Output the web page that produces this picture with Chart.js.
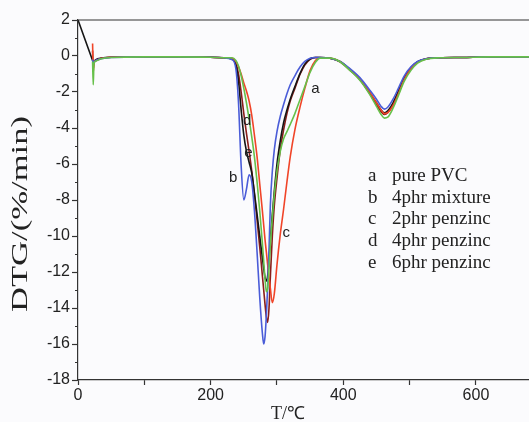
<!DOCTYPE html>
<html>
<head>
<meta charset="utf-8">
<script src="https://cdn.jsdelivr.net/npm/chart.js@4.4.0/dist/chart.umd.min.js"></script>
<style>
  html, body { margin: 0; padding: 0; background: #fbfbfd; overflow: hidden; }
  #wrap { width: 529px; height: 422px; }
</style>
</head>
<body>
<div id="wrap"><canvas id="dtg-chart" width="529" height="422"></canvas></div>
<script>
// temperature grid (°C), shared by every curve
var temps = [0, 22, 23, 24, 27, 35, 50, 100, 150, 200,
    220, 232, 238, 242, 246, 250, 254, 258, 262, 266,
    270, 274, 278, 280, 282, 284, 286, 288, 290, 293,
    296, 300, 305, 310, 315, 320, 327, 335, 342, 350,
    358, 365, 380, 395, 410, 425, 440, 450, 457, 462,
    467, 475, 483, 492, 502, 512, 525, 545, 580, 620,
    660, 690];

// DTG values (%/min)
var purePVC = [null, -0.3, -1.6, -0.45, -0.28, -0.15, -0.08, -0.05, -0.05, -0.07,
    -0.1, -0.1, -0.25, -0.55, -1.1, -1.8, -2.6, -3.5, -4.5, -5.6,
    -7.0, -8.6, -10.4, -11.4, -12.4, -13.1, -12.9, -11.8, -10.5, -9.0,
    -7.7, -6.4, -5.3, -4.6, -4.2, -3.8, -3.2, -2.4, -1.7, -0.9,
    -0.35, -0.12, -0.12, -0.32, -0.8, -1.35, -2.15, -2.8, -3.25, -3.45,
    -3.4, -2.9, -2.2, -1.4, -0.8, -0.4, -0.18, -0.1, -0.08, -0.05,
    -0.05, -0.05];
var mixture4 = [null, -0.2, -0.45, -0.35, -0.25, -0.15, -0.08, -0.05, -0.05, -0.07,
    -0.1, -0.2, -0.7, -2.6, -6.1, -8.0, -7.4, -6.6, -7.0, -8.6,
    -10.9, -13.4, -15.4, -16.0, -15.6, -14.4, -12.8, -10.8, -8.3, -6.4,
    -5.2, -4.2, -3.35, -2.7, -2.1, -1.6, -1.1, -0.6, -0.3, -0.12,
    -0.08, -0.08, -0.12, -0.3, -0.7, -1.2, -1.9, -2.4, -2.8, -2.95,
    -2.85, -2.4, -1.8, -1.1, -0.6, -0.3, -0.15, -0.1, -0.08, -0.05,
    -0.05, -0.05];
var penzinc2 = [null, 0.7, -0.9, -0.4, -0.25, -0.13, -0.07, -0.05, -0.05, -0.07,
    -0.1, -0.12, -0.3, -0.6, -1.0, -1.5, -1.95, -2.5, -3.3, -4.4,
    -5.6, -7.1, -8.6, -9.4, -10.2, -10.9, -11.6, -12.3, -12.9, -13.7,
    -13.2, -11.6, -9.9, -8.5, -7.0, -5.6, -4.1, -2.8, -1.8, -0.8,
    -0.25, -0.1, -0.12, -0.3, -0.75, -1.25, -2.0, -2.6, -3.0, -3.2,
    -3.15, -2.75, -2.1, -1.3, -0.7, -0.35, -0.16, -0.1, -0.08, -0.05,
    -0.05, -0.05];
var penzinc4 = [2, -0.25, -0.35, -0.3, -0.2, -0.12, -0.07, -0.05, -0.05, -0.06,
    -0.1, -0.15, -0.5, -1.4, -3.0, -4.4, -5.3, -5.9, -6.5, -7.6,
    -8.8, -10.0, -11.2, -11.8, -12.3, -12.5, -12.2, -11.3, -10.2, -8.8,
    -7.5, -6.0, -4.7, -3.7, -3.0, -2.4, -1.7, -0.95, -0.45, -0.15,
    -0.08, -0.08, -0.12, -0.3, -0.75, -1.3, -2.05, -2.6, -3.0, -3.15,
    -3.05, -2.6, -1.95, -1.2, -0.65, -0.32, -0.15, -0.1, -0.08, -0.05,
    -0.05, -0.05];
var penzinc6 = [null, 0.3, -0.7, -0.4, -0.25, -0.13, -0.07, -0.05, -0.05, -0.07,
    -0.1, -0.15, -0.4, -1.0, -2.0, -3.2, -4.3, -5.3, -6.4, -7.7,
    -9.1, -10.6, -12.2, -13.0, -13.8, -14.5, -14.8, -14.0, -12.3, -10.0,
    -8.3, -6.8, -5.2, -4.1, -3.2, -2.5, -1.8, -1.0, -0.5, -0.18,
    -0.08, -0.08, -0.12, -0.32, -0.78, -1.3, -2.1, -2.7, -3.1, -3.25,
    -3.15, -2.7, -2.0, -1.25, -0.68, -0.33, -0.15, -0.1, -0.08, -0.05,
    -0.05, -0.05];

var legendKeys = ['a', 'b', 'c', 'd', 'e'];
var legendNames = ['pure PVC', '4phr mixture', '2phr penzinc', '4phr penzinc', '6phr penzinc'];

// curve letters placed next to the curves (°C, %/min)
var tagT = [358, 234, 314, 255, 257];
var tagV = [-1.8, -6.75, -9.8, -3.6, -5.4];

var yTicks = [2, 0, -2, -4, -6, -8, -10, -12, -14, -16, -18];
var xTicks = [0, 100, 200, 300, 400, 500, 600];

function series(label, values, color) {
    return {
        label: label,
        data: temps.map(function (t, i) { return {x: t, y: values[i]}; }),
        borderColor: color,
        backgroundColor: color,
        borderWidth: 1.6,
        pointRadius: 0,
        cubicInterpolationMode: 'monotone',
        fill: false,
        spanGaps: false
    };
}

var frameAndText = {
    id: 'frameAndText',
    afterDraw: function (chart) {
        var ctx = chart.ctx;
        var area = chart.chartArea;
        var xs = chart.scales.x;
        var ys = chart.scales.y;
        ctx.save();
        // top frame line
        ctx.strokeStyle = '#333';
        ctx.lineWidth = 1.2;
        ctx.beginPath();
        ctx.moveTo(area.left, area.top);
        ctx.lineTo(area.right, area.top);
        ctx.stroke();
        // minor ticks on y
        ctx.beginPath();
        for (var v = -17; v <= 1; v += 2) {
            var py = Math.round(ys.getPixelForValue(v)) + 0.5;
            ctx.moveTo(area.left - 3, py);
            ctx.lineTo(area.left, py);
        }
        ctx.stroke();

        // letters beside the curves
        ctx.fillStyle = '#222';
        ctx.font = '15px "Liberation Sans", Arial, sans-serif';
        ctx.textAlign = 'center';
        ctx.textBaseline = 'middle';
        for (var i = 0; i < legendKeys.length; i++) {
            ctx.fillText(legendKeys[i], xs.getPixelForValue(tagT[i]), ys.getPixelForValue(tagV[i]));
        }

        // text legend
        ctx.font = '19px "Liberation Serif", "Times New Roman", serif';
        ctx.textAlign = 'left';
        ctx.textBaseline = 'alphabetic';
        for (var j = 0; j < legendKeys.length; j++) {
            var by = 181 + j * 21.7;
            ctx.fillText(legendKeys[j], 368, by);
            ctx.fillText(legendNames[j], 392, by);
        }

        // x axis title
        ctx.font = '18px "Liberation Serif", "Times New Roman", serif';
        ctx.textAlign = 'center';
        ctx.fillText('T/\u2103', 288, 419);

        // y axis title, rotated and a little stretched like the scan
        ctx.font = '23px "Liberation Serif", "Times New Roman", serif';
        ctx.textBaseline = 'middle';
        var yTitle = 'DTG/(%/min)';
        var stretch = 196 / ctx.measureText(yTitle).width;
        ctx.translate(21, 214);
        ctx.rotate(-Math.PI / 2);
        ctx.scale(stretch, 1);
        ctx.fillText(yTitle, 0, 0);
        ctx.restore();
    }
};

var config = {
    type: 'line',
    data: {
        datasets: [
            series('a pure PVC', purePVC, '#66c04a'),
            series('b 4phr mixture', mixture4, '#4a5cd8'),
            series('c 2phr penzinc', penzinc2, '#f04428'),
            series('d 4phr penzinc', penzinc4, '#151515'),
            series('e 6phr penzinc', penzinc6, '#8a1e1a')
        ]
    },
    options: {
        responsive: false,
        animation: false,
        layout: {padding: {top: 20, right: 0, left: 0, bottom: 0}},
        plugins: {
            legend: {display: false},
            tooltip: {enabled: false}
        },
        scales: {
            x: {
                type: 'linear',
                min: 0,
                max: 680,
                afterBuildTicks: function (scale) {
                    scale.ticks = xTicks.map(function (v) { return {value: v}; });
                },
                afterFit: function (scale) { scale.height = 42; },
                border: {display: true, color: '#333', width: 1.2},
                grid: {drawOnChartArea: false, drawTicks: true, tickLength: 5, tickColor: '#333', tickWidth: 1.2},
                ticks: {
                    color: '#222',
                    padding: 1,
                    maxRotation: 0,
                    font: {family: '"Liberation Sans", Arial, sans-serif', size: 16},
                    callback: function (v) { return v % 200 === 0 ? String(v) : ''; }
                }
            },
            y: {
                min: -18,
                max: 2,
                afterBuildTicks: function (scale) {
                    scale.ticks = yTicks.map(function (v) { return {value: v}; });
                },
                afterFit: function (scale) { scale.width = 78; },
                border: {display: true, color: '#333', width: 1.2},
                grid: {drawOnChartArea: false, drawTicks: true, tickLength: 6, tickColor: '#333', tickWidth: 1.2},
                ticks: {
                    color: '#222',
                    padding: 2,
                    font: {family: '"Liberation Sans", Arial, sans-serif', size: 16}
                }
            }
        }
    },
    plugins: [frameAndText]
};

var ctx = document.getElementById('dtg-chart').getContext('2d');
window.dtgChart = new Chart(ctx, config);
</script>
</body>
</html>
